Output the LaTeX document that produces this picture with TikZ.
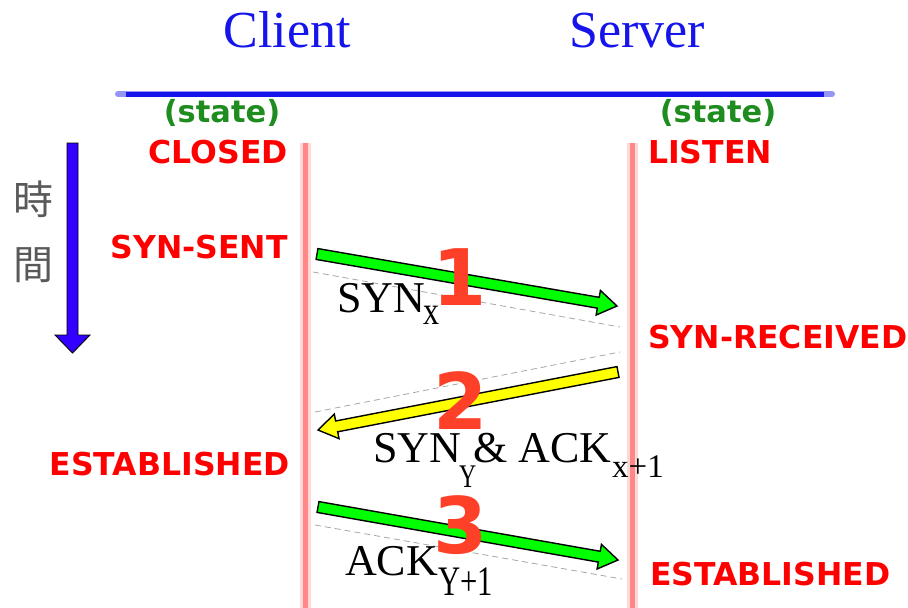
\documentclass[tikz,border=0pt]{standalone}
\usepackage{fontspec}
\setmainfont{Liberation Serif}
\newfontfamily\vsans{DejaVu Sans}
\newfontfamily\cjk{Noto Sans CJK TC}
\usetikzlibrary{calc}
\definecolor{hdrblue}{RGB}{20,20,235}
\definecolor{stategreen}{RGB}{30,140,30}
\definecolor{statered}{RGB}{255,0,0}
\definecolor{numred}{RGB}{255,64,40}
\definecolor{lifecore}{RGB}{255,135,135}
\definecolor{lifeglow}{RGB}{255,215,215}
\definecolor{timeblue}{RGB}{51,0,255}
\definecolor{okgreen}{RGB}{0,255,0}
\definecolor{ackyellow}{RGB}{255,255,0}
\tikzset{
  hdr/.style={font=\fontsize{52}{56}\selectfont, text=hdrblue, inner sep=0, anchor=base},
  statehdr/.style={font=\vsans\bfseries\fontsize{30.5}{34}\selectfont, text=stategreen, inner sep=0},
  stlab/.style={font=\vsans\bfseries\fontsize{31.5}{34}\selectfont, text=statered, inner sep=0},
  msg/.style={font=\fontsize{44}{48}\selectfont, inner sep=0, anchor=base west},
  sub/.style={font=\fontsize{#1}{#1}\selectfont, inner sep=0, anchor=base west},
  stepnum/.style={font=\vsans\bfseries\fontsize{78}{80}\selectfont, text=numred, inner sep=0},
  kanji/.style={font=\cjk\fontsize{40}{42}\selectfont, text=black!65, inner sep=0},
  guide/.style={draw=black!35, line width=0.8pt, dash pattern=on 6pt off 4pt},
  fatarrow/.style={draw=black, line width=1.4pt, line join=miter},
}
\newcommand{\fatarrow}[3]{%
  \draw[fatarrow, fill=#3] let \p1=($(#2)-(#1)$), \n1={atan2(\y1,\x1)}, \n2={veclen(\x1,\y1)} in
    [shift={(#1)}, rotate=\n1]
    (0pt,5.5pt) -- ({\n2-19pt},5.5pt) -- ({\n2-19pt},12.5pt) -- ({\n2},0pt)
    -- ({\n2-19pt},-12.5pt) -- ({\n2-19pt},-5.5pt) -- (0pt,-5.5pt) -- cycle;}
\begin{document}
\begin{tikzpicture}[x=1pt,y=-1pt]
\useasboundingbox (0,0) rectangle (908,608);
% headers
\node[hdr] (client) at (287,47) {Client};
\node[hdr] (server) at (637,47) {Server};
\coordinate (hl) at (118,94);
\coordinate (hr) at (832,94);
\draw[hdrblue!45, line width=6pt, line cap=round] (hl) -- (hr);
\draw[hdrblue, line width=5pt] ([xshift=8pt]hl) -- ([xshift=-8pt]hr);
\node[statehdr] (stc) at (222,113) {(state)};
\node[statehdr] (sts) at (718,113) {(state)};
% lifelines
\coordinate (cTop) at (305,143);
\coordinate (cBot) at (305,608);
\coordinate (sTop) at (632,143);
\coordinate (sBot) at (632,608);
\foreach \a/\b in {cTop/cBot, sTop/sBot}{
  \draw[lifeglow, line width=11pt] (\a) -- (\b);
  \draw[lifecore, line width=5pt] (\a) -- (\b);
}
% time arrow
\draw[fill=timeblue, draw=black, line width=0.9pt]
  (67,143) -- (78,143) -- (78,335) -- (90,335) -- (72.5,353) -- (55,335) -- (67,335) -- cycle;
\node[kanji] (k1) at (33,199) {時};
\node[kanji] (k2) at (33,265) {間};
% state labels
\node[stlab, anchor=base east] (closed) at (288,163) {CLOSED};
\node[stlab, anchor=base east] (synsent) at (288,258) {SYN-SENT};
\node[stlab, anchor=base east] (estc) at (290,475) {ESTABLISHED};
\node[stlab, anchor=base west] (listen) at (648,163) {LISTEN};
\node[stlab, anchor=base west] (synrcv) at (648,348) {SYN-RECEIVED};
\node[stlab, anchor=base west] (ests) at (650,585) {ESTABLISHED};
% guide dashed lines
\coordinate (d1s) at (313,272); \coordinate (d1e) at (620,327);
\coordinate (d2s) at (315,412); \coordinate (d2e) at (620,352);
\coordinate (d3s) at (315,525); \coordinate (d3e) at (622,579);
\draw[guide] (d1s) -- (d1e);
\draw[guide] (d2s) -- (d2e);
\draw[guide] (d3s) -- (d3e);
% message arrows
\coordinate (a1s) at (317,254); \coordinate (a1e) at (617,306);
\coordinate (a2s) at (618,372); \coordinate (a2e) at (318,430);
\coordinate (a3s) at (318,507); \coordinate (a3e) at (618,560);
\fatarrow{a1s}{a1e}{okgreen}
\fatarrow{a2s}{a2e}{ackyellow}
\fatarrow{a3s}{a3e}{okgreen}
% message labels
\node[msg] (syn1) at (337,312) {SYN};
\node[sub=40, xscale=0.8, transform shape] (syn1x) at (423,324) {x};
\node[msg] (syn2) at (373,462) {SYN};
\node[sub=33, xscale=0.72, transform shape] (syn2y) at (459,487) {Y};
\node[msg] (ack2) at (473,462) {\& ACK};
\node[sub=33] (ack2x) at (612,477) {x+1};
\node[msg] (ack3) at (345,575) {ACK};
\node[sub=42, xscale=0.73, transform shape] (ack3y) at (438,595) {Y+1};
% step numbers
\node[stepnum] (n1) at (460,277) {1};
\node[stepnum] (n2) at (461,401) {2};
\node[stepnum] (n3) at (461,525) {3};
\end{tikzpicture}
\end{document}
